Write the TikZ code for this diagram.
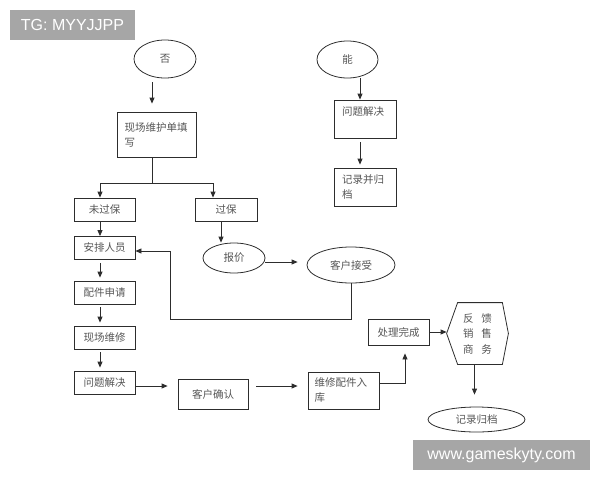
\documentclass[tikz,border=0pt]{standalone}
\usepackage{fontspec}
\newfontfamily\cjk{Noto Sans CJK SC}
\newfontfamily\wmfont{Liberation Sans}
\usetikzlibrary{shapes.geometric,arrows.meta}
\definecolor{linegray}{RGB}{45,45,45}
\definecolor{textgray}{RGB}{85,85,85}
\definecolor{markgray}{RGB}{166,166,166}

\begin{document}
\begin{tikzpicture}[x=1pt,y=-1pt,color=linegray,line width=0.8pt,
        >={Triangle[length=6pt,width=5pt]},
        box/.style={draw, rectangle, text=textgray, font=\cjk\fontsize{10.5}{15}\selectfont,
            minimum width=61pt, minimum height=23pt, inner sep=2pt},
        oval/.style={draw, ellipse, text=textgray, font=\cjk\fontsize{10.5}{15}\selectfont, inner sep=0pt},
        wmbox/.style={fill=markgray, text=white, font=\wmfont\fontsize{16}{16}\selectfont, inner sep=0pt}]
        \useasboundingbox (0,0) rectangle (600,480);

        % Nodes
        \node(no) [oval, minimum width=62pt, minimum height=38pt] at (165,59) {否};
        \node(fill) [box, minimum width=79pt, minimum height=45pt, text width=64pt, align=left] at (156.5,134.5) {现场维护单填\\写};
        \node(under) [box] at (104.5,209.5) {未过保};
        \node(over) [box, minimum width=62pt] at (226,209.5) {过保};
        \node(arrange) [box] at (104.5,248) {安排人员};
        \node(parts) [box] at (104.5,292.5) {配件申请};
        \node(onsite) [box] at (104.5,337.5) {现场维修};
        \node(solved) [box] at (104.5,382.5) {问题解决};
        \node(quote) [oval, minimum width=62pt, minimum height=30pt] at (234,258) {报价};
        \node(accept) [oval, minimum width=88pt, minimum height=36pt] at (351,265) {客户接受};
        \node(confirm) [box, minimum width=70pt, minimum height=30pt] at (213,394) {客户确认};
        \node(stock) [box, minimum width=71pt, minimum height=37pt, text width=58pt, align=left] at (343.5,390.5) {维修配件入\\库};
        \node(done) [box, minimum height=26pt] at (398.5,332) {处理完成};
        \node(feedback) [text=textgray, font=\cjk\fontsize{10.5}{15.5}\selectfont, minimum width=61pt, minimum height=61pt, align=center] at (477.5,333.5) {反\hspace{8pt}馈\\销\hspace{8pt}售\\商\hspace{8pt}务};
        \node(archive) [oval, minimum width=97pt, minimum height=25pt] at (476.5,419.5) {记录归档};
        \node(can) [oval, minimum width=61pt, minimum height=37pt] at (347.5,59.5) {能};
        \node(solvedtoo) [box, minimum width=62pt, minimum height=38pt, text width=46pt, align=left, text height=12pt, text depth=20pt] at (365,119) {问题解决};
        \node(record) [box, minimum width=62pt, minimum height=38pt, text width=46pt, align=left] at (365,187) {记录并归\\档};
        \node(tg) [wmbox, minimum width=125pt, minimum height=30pt] at (72.5,25) {TG: MYYJJPP};
        \node(site) [wmbox, minimum width=177pt, minimum height=30pt] at (501.5,455) {www.gameskyty.com};
        \coordinate(split) at (152,183);
        \coordinate(back) at (170,319);

        % Hexagon
        \draw (feedback.west) -- ([xshift=11pt]feedback.north west) -- ([xshift=-6pt]feedback.north east)
            -- (feedback.east) -- ([xshift=-6pt]feedback.south east) -- ([xshift=11pt]feedback.south west) -- cycle;

        % Edges
        \draw[->, shorten <=4pt, shorten >=8pt] ([xshift=-4.5pt]fill.north |- no.south) -- ([xshift=-4.5pt]fill.north);
        \draw ([xshift=-4.5pt]fill.south) -- (split);
        \draw[->] (split) -| ([xshift=-4.5pt]under.north);
        \draw[->] (split) -| ([xshift=-13pt]over.north);
        \draw[->] ([xshift=-4.5pt]under.south) -- ([xshift=-4.5pt]arrange.north);
        \draw[->, shorten <=3pt, shorten >=3pt] ([xshift=-4.5pt]arrange.south) -- ([xshift=-4.5pt]parts.north);
        \draw[->, shorten <=3pt, shorten >=3pt] ([xshift=-4.5pt]parts.south) -- ([xshift=-4.5pt]onsite.north);
        \draw[->, shorten <=3pt, shorten >=3pt] ([xshift=-4.5pt]onsite.south) -- ([xshift=-4.5pt]solved.north);
        \draw[->] ([xshift=-5pt]over.south) -- ([xshift=-5pt]over.south |- quote.north);
        \draw[->, shorten >=9pt] ([yshift=-4pt]quote.east) -- ([yshift=-4pt]quote.east -| accept.west);
        \draw[->] (accept.south) |- (back) |- ([yshift=-3pt]arrange.east);
        \draw[->, shorten >=10pt] ([yshift=-3.5pt]solved.east) -- ([yshift=-3.5pt]solved.east -| confirm.west);
        \draw[->, shorten <=8pt, shorten >=10pt] ([yshift=8pt]confirm.east) -- ([yshift=8pt]confirm.east -| stock.west);
        \draw[->, shorten >=8pt] ([yshift=7.5pt]stock.east) -| ([xshift=6.5pt]done.south);
        \draw[->] (done.east) -- (done.east -| feedback.west);
        \draw[->, shorten >=12pt] ([xshift=-3pt]feedback.south) -- ([xshift=-3pt]feedback.south |- archive.north);
        \draw[->] ([xshift=-5pt]solvedtoo.north |- can.south) -- ([xshift=-5pt]solvedtoo.north);
        \draw[->, shorten <=4pt, shorten >=3pt] ([xshift=-5pt]solvedtoo.south) -- ([xshift=-5pt]record.north);
    \end{tikzpicture}
\end{document}
